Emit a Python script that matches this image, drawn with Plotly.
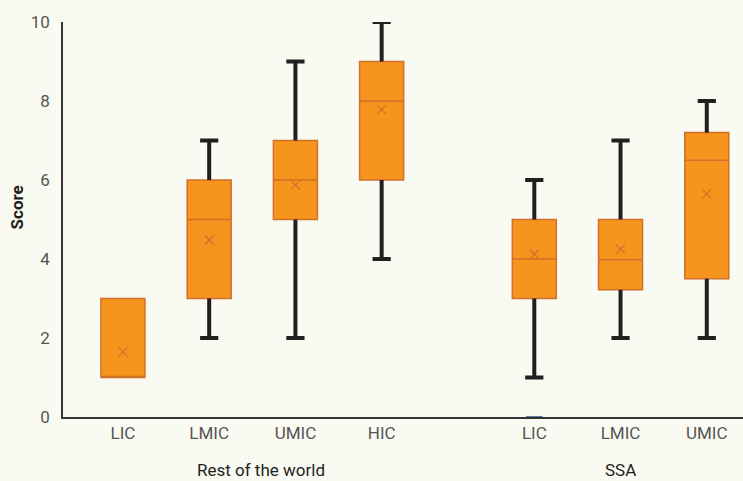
import plotly.graph_objects as go

# categories and their positions on the axis (gap between the two groups)
labels = ["LIC", "LMIC", "UMIC", "HIC", "LIC", "LMIC", "UMIC"]
positions = [0, 1, 2, 3, 4.77, 5.77, 6.77]
groups = ["Rest of the world", "SSA"]
group_centers = [1.6, 5.77]

# box statistics
lower = [1, 2, 2, 4, 1, 2, 2]
q1 = [1, 3, 5, 6, 3, 3.22, 3.5]
median = [1, 5, 6, 8, 4, 3.98, 6.5]
q3 = [3, 6, 7, 9, 5, 5, 7.2]
upper = [3, 7, 9, 10, 6, 7, 8]
means = [1.65, 4.48, 5.87, 7.78, 4.12, 4.25, 5.65]

outlier_x = [4.77]
outlier_y = [0]

FONT = "Roboto, Liberation Sans Narrow, sans-serif"
BG = "#f9faf1"
ORANGE = "#f7941e"
EDGE = "#d0702a"
DARK = "#231f20"


def main():
    fig = go.Figure()

    # whisker stems, only outside the box
    wx, wy = [], []
    for x, lo, a, b, hi in zip(positions, lower, q1, q3, upper):
        if hi > b:
            wx += [x, x, None]
            wy += [b, hi, None]
        if lo < a:
            wx += [x, x, None]
            wy += [lo, a, None]
    fig.add_trace(go.Scatter(x=wx, y=wy, mode="lines",
                             line=dict(color=DARK, width=4), hoverinfo="skip"))

    # whisker caps
    cx, cy = [], []
    for x, lo, a, b, hi in zip(positions, lower, q1, q3, upper):
        if hi > b:
            cx.append(x)
            cy.append(hi)
        if lo < a:
            cx.append(x)
            cy.append(lo)
    fig.add_trace(go.Scatter(x=cx, y=cy, mode="markers",
                             marker=dict(symbol="line-ew", size=13,
                                         line=dict(color=DARK, width=4)),
                             hoverinfo="skip"))

    fig.add_trace(go.Box(
        x=positions, q1=q1, median=median, q3=q3,
        lowerfence=q1, upperfence=q3,
        width=0.51, fillcolor=ORANGE,
        line=dict(color=EDGE, width=1.5),
        boxpoints=False,
    ))

    fig.add_trace(go.Scatter(x=positions, y=means, mode="markers",
                             marker=dict(symbol="x-thin", size=9,
                                         line=dict(color=EDGE, width=1.2))))

    fig.add_trace(go.Scatter(x=outlier_x, y=outlier_y, mode="markers",
                             marker=dict(symbol="line-ew", size=12,
                                         line=dict(color="#5b7fb5", width=2)),
                             cliponaxis=False))

    for g, c in zip(groups, group_centers):
        fig.add_annotation(x=c, y=-0.135, xref="x", yref="paper", text=g,
                           showarrow=False, yanchor="middle",
                           font=dict(family=FONT, size=17, color="#231f20"))

    # y axis title placed by hand so it sits where the original has it
    fig.add_annotation(x=-0.068, y=0.53, xref="paper", yref="paper",
                       text="<b>Score</b>", textangle=-90, showarrow=False,
                       xanchor="center", yanchor="middle",
                       font=dict(family=FONT, size=17, color="#231f20"))

    fig.update_layout(
        width=743, height=481,
        margin=dict(l=63, r=0, t=22, b=64),
        paper_bgcolor=BG, plot_bgcolor=BG,
        showlegend=False,
        font=dict(family=FONT, size=17, color="#555555"),
        xaxis=dict(range=[-0.695, 7.19], tickvals=positions, ticktext=labels,
                   showgrid=False, zeroline=False, showline=True,
                   linecolor="#333333", linewidth=1.5, ticks=""),
        yaxis=dict(range=[0, 10], tickvals=[0, 2, 4, 6, 8, 10],
                   showgrid=False, zeroline=False, showline=True,
                   linecolor="#333333", linewidth=1.5, ticks="",
                   ticklabelstandoff=8),
    )
    fig.write_html("out.html", config={"displayModeBar": False},
                   post_script="document.body.style.margin='0';"
                               "document.body.style.background='" + BG + "';")


if __name__ == "__main__":
    main()
